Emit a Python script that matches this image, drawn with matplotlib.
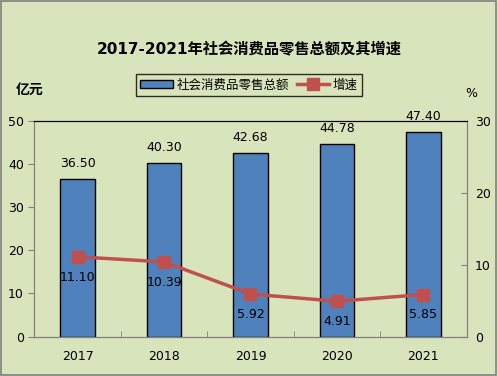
import matplotlib
matplotlib.use("Agg")
import matplotlib.pyplot as plt
from matplotlib.lines import Line2D
from matplotlib.patches import Patch, Rectangle

plt.rcParams['font.family'] = ['DejaVu Sans', 'Noto Sans CJK SC']

years = ['2017', '2018', '2019', '2020', '2021']
retail_total = [36.50, 40.30, 42.68, 44.78, 47.40]
growth_rate = [11.10, 10.39, 5.92, 4.91, 5.85]

bg = '#D8E4BC'
bar_color = '#4F81BD'
line_color = '#C0504D'

fig = plt.figure(figsize=(4.98, 3.76), dpi=100, facecolor=bg)
# ramka wokol wykresu
fig.patches.append(Rectangle((0.002, 0.003), 0.994, 0.994, transform=fig.transFigure,
                             fill=False, edgecolor='#808080', linewidth=1.2))

ax = fig.add_axes([0.069, 0.105, 0.868, 0.573])
ax.set_facecolor(bg)
x = range(len(years))
ax.bar(x, retail_total, width=0.4, color=bar_color, edgecolor='black', linewidth=1, zorder=2)
ax.set_xlim(-0.5, len(years) - 0.5)
ax.set_ylim(0, 50)
ax.set_yticks([0, 10, 20, 30, 40, 50])
ax.set_xticks(list(x))
ax.set_xticklabels(years)
ax.set_xticks([i + 0.5 for i in range(len(years) - 1)], minor=True)
ax.tick_params(axis='x', which='major', length=0, pad=10, labelsize=9)
ax.tick_params(axis='x', which='minor', direction='in', length=4, color='#808080')
ax.tick_params(axis='y', direction='out', length=4, color='#808080', labelsize=9)
for s in ['left', 'right', 'bottom']:
    ax.spines[s].set_color('#808080')
ax.spines['top'].set_color('black')

for i, v in enumerate(retail_total):
    ax.annotate(f"{v:.2f}", (i, v), xytext=(0, 6.5), textcoords='offset points',
                ha='center', va='bottom', fontsize=9)

ax2 = ax.twinx()
ax2.plot(x, growth_rate, color=line_color, linewidth=2.5, marker='s', markersize=8, zorder=3)
ax2.set_ylim(0, 30)
ax2.set_yticks([0, 10, 20, 30])
ax2.tick_params(axis='y', direction='in', length=4, color='#808080', labelsize=9, pad=6)
for s in ['left', 'right', 'bottom']:
    ax2.spines[s].set_color('#808080')
ax2.spines['top'].set_color('black')

for i, v in enumerate(growth_rate):
    ax2.annotate(f"{v:.2f}", (i, v), xytext=(0, -10), textcoords='offset points',
                 ha='center', va='top', fontsize=9)

fig.text(0.5, 0.868, '2017-2021年社会消费品零售总额及其增速', ha='center', va='center',
         fontsize=11, fontweight='bold')
fig.text(0.06, 0.76, '亿元', ha='center', va='center', fontsize=10, fontweight='bold')
fig.text(0.946, 0.752, '%', ha='center', va='center', fontsize=9)

handles = [Patch(facecolor=bar_color, edgecolor='black', linewidth=1),
           Line2D([], [], color=line_color, linewidth=2.5, marker='s', markersize=8)]
fig.legend(handles, ['社会消费品零售总额', '增速'], loc='center', bbox_to_anchor=(0.5, 0.774),
           ncol=2, frameon=True, fancybox=False, edgecolor='black', facecolor=bg,
           fontsize=9, handlelength=2.6, columnspacing=0.6, handletextpad=0.3,
           borderpad=0.35)

fig.savefig('out.png', dpi=100, facecolor=bg)
